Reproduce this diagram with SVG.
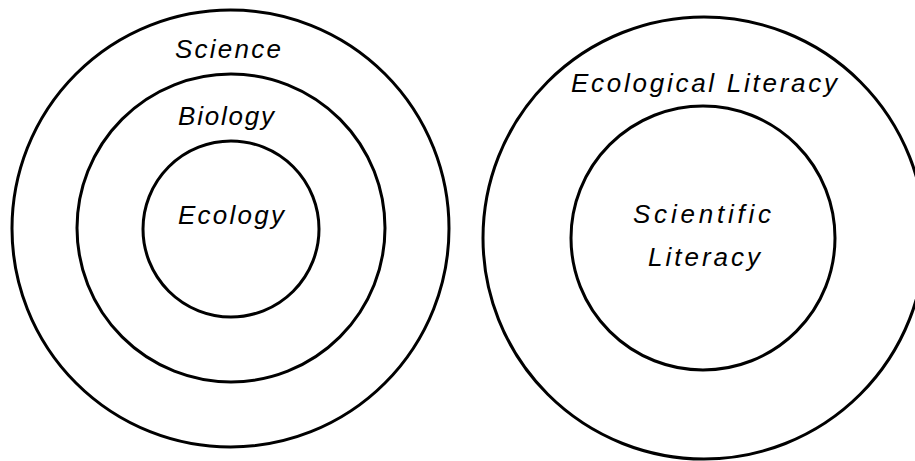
<svg xmlns="http://www.w3.org/2000/svg" width="915" height="461" viewBox="0 0 915 461">
<style>
.ring{fill:none;stroke:#000;stroke-width:3}
.lbl{font-family:"Liberation Sans",Arial,sans-serif;font-style:italic;font-size:26px;fill:#000;text-anchor:middle}
</style>
<rect width="915" height="461" fill="#fff"/>
<g id="science">
<circle class="ring" cx="230.5" cy="228.5" r="218.5"/>
<text class="lbl" x="228" y="58" textLength="106" lengthAdjust="spacing">Science</text>
</g>
<g id="biology">
<circle class="ring" cx="231" cy="228" r="154"/>
<text class="lbl" x="226" y="125" textLength="96" lengthAdjust="spacing">Biology</text>
</g>
<g id="ecology">
<circle class="ring" cx="231" cy="229" r="88"/>
<text class="lbl" x="231" y="224" textLength="106" lengthAdjust="spacing">Ecology</text>
</g>
<g id="ecological-literacy">
<circle class="ring" cx="704" cy="238" r="221"/>
<text class="lbl" x="704" y="92" textLength="266" lengthAdjust="spacing">Ecological Literacy</text>
</g>
<g id="scientific-literacy">
<circle class="ring" cx="703" cy="238" r="132"/>
<text class="lbl" x="702" y="223" textLength="138" lengthAdjust="spacing">Scientific</text>
<text class="lbl" x="704" y="266" textLength="112" lengthAdjust="spacing">Literacy</text>
</g>
<g id="connectors"></g>
</svg>
